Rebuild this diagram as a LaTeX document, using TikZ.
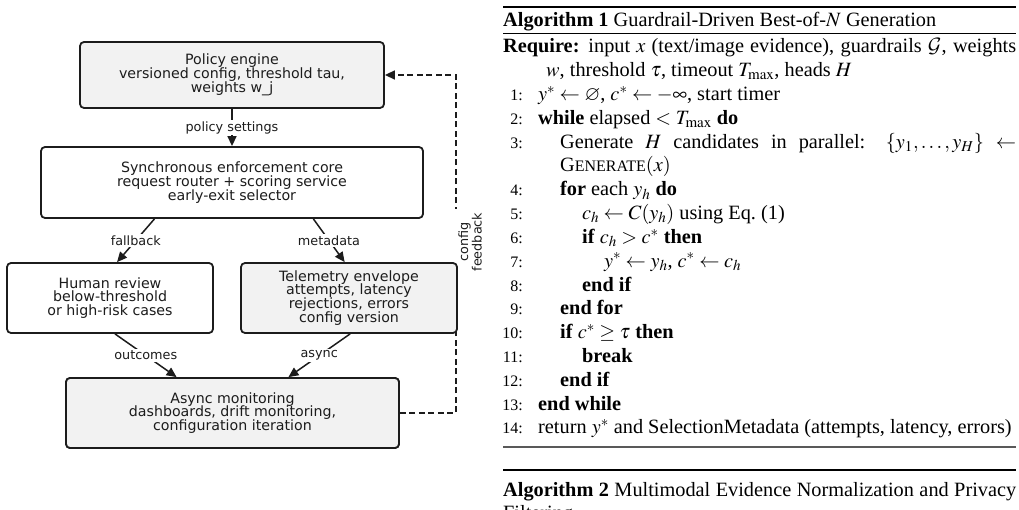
\documentclass[tikz,border=0pt]{standalone}
\usepackage{amssymb}
\usepackage{mathptmx}
\DeclareMathAlphabet{\mathcal}{OMS}{cmsy}{m}{n}
\usepackage{fontspec}
\setmainfont{Liberation Serif}
\newfontfamily\dejavu{DejaVu Sans}
\usetikzlibrary{arrows.meta,calc}
\definecolor{boxline}{HTML}{1C1C1C}
\definecolor{boxfill}{HTML}{F2F2F2}
\newcommand{\algln}[5]{%
  \node[lnum] (n#1) at (523,#4) {#2};
  \node[ltxt] (t#1) at (#3,#4) {#5};}
\begin{document}
\begin{tikzpicture}[x=1pt,y=-1pt,
  box/.style={draw=boxline,line width=1.8pt,rounded corners=4pt,align=center,inner sep=0pt,
    text=boxline,font=\dejavu\fontsize{14.2}{13.9}\selectfont},
  gbox/.style={box,fill=boxfill},
  wbox/.style={box,fill=white},
  conn/.style={draw=boxline,line width=1.5pt,-{Triangle[length=10pt,width=9pt]}},
  lbl/.style={fill=white,inner sep=1.5pt,text=boxline,font=\dejavu\fontsize{12.8}{13.5}\selectfont},
  lnum/.style={anchor=base east,inner sep=0pt,font=\fontsize{16}{19}\selectfont},
  ltxt/.style={anchor=base west,inner sep=0pt,font=\fontsize{20.3}{23.8}\selectfont},
  rulethick/.style={line width=1.6pt},
  rulethin/.style={line width=0.8pt}]
\useasboundingbox (0,0) rectangle (1019,510);
\clip (0,0) rectangle (1019,510);

% ---------- diagram ----------
\coordinate (fbc) at (456,75);
\node[gbox,minimum width=304pt,minimum height=66pt] (pol) at (232,75)
  {Policy engine\\versioned config, threshold tau,\\weights w\_j};
\node[gbox,minimum width=333pt,minimum height=70pt] (amon) at (232.5,413)
  {Async monitoring\\dashboards, drift monitoring,\\configuration iteration};
\draw[boxline,line width=1.5pt,dash pattern=on 6pt off 3.5pt,-{Triangle[length=10pt,width=9pt]}]
  (amon.east) -| (fbc) -- (pol.east);
\node[lbl,rotate=90,align=center,inner sep=4pt] (fbl) at (470,242) {config\\feedback};
\node[gbox,minimum width=333pt,minimum height=70pt] (amon2) at (232.5,413)
  {Async monitoring\\dashboards, drift monitoring,\\configuration iteration};
\node[wbox,minimum width=382pt,minimum height=71pt] (syn) at (232,182.5)
  {Synchronous enforcement core\\request router + scoring service\\early-exit selector};
\node[wbox,minimum width=206pt,minimum height=70pt] (hum) at (110,298)
  {Human review\\below-threshold\\or high-risk cases};
\node[gbox,minimum width=216pt,minimum height=70pt] (tel) at (349,298)
  {Telemetry envelope\\attempts, latency\\rejections, errors\\config version};

\draw[conn] (pol.south) -- node[lbl] (l1) {policy settings} (syn.north);
\draw[conn] ($(syn.south west)!0.298!(syn.south east)$) -- node[lbl] (l2) {fallback}
  ($(hum.north west)!0.534!(hum.north east)$);
\draw[conn] ($(syn.south west)!0.712!(syn.south east)$) -- node[lbl] (l3) {metadata}
  ($(tel.north west)!0.48!(tel.north east)$);
\draw[conn] ($(hum.south west)!0.524!(hum.south east)$) -- node[lbl] (l4) {outcomes}
  ($(amon2.north west)!0.333!(amon2.north east)$);
\draw[conn] ($(tel.south west)!0.505!(tel.south east)$) -- node[lbl] (l5) {async}
  ($(amon2.north west)!0.667!(amon2.north east)$);

% ---------- algorithm 1 ----------
\draw[rulethick] (503,7) coordinate (r1a) -- (1016,7) coordinate (r1b);
\node[ltxt] (h1) at (503,27) {\textbf{Algorithm 1} Guardrail-Driven Best-of-$N$ Generation};
\draw[rulethin] (503,33) coordinate (r2a) -- (1016,33) coordinate (r2b);
\node[ltxt] (req) at (503,53) {\makebox[513pt][s]{\textbf{Require:} input $x$ (text/image evidence), guardrails $\mathcal{G}$, weights}};
\node[ltxt] (req2) at (546,76.8) {$w$, threshold $\tau$, timeout $T_{\max}$, heads $H$};
\algln{1}{1:}{538}{100.6}{$y^*\leftarrow\varnothing$, $c^*\leftarrow-\infty$, start timer}
\algln{2}{2:}{538}{124.4}{\textbf{while} elapsed $<T_{\max}$ \textbf{do}}
\algln{3}{3:}{560}{148.2}{\makebox[456pt][s]{Generate $H$ candidates in parallel: $\{y_1,\dots,y_H\}$ $\leftarrow$}}
\node[ltxt] (t3b) at (560,172) {G{\fontsize{16}{19}\selectfont ENERATE}$(x)$};
\algln{4}{4:}{560}{195.8}{\textbf{for} each $y_h$ \textbf{do}}
\algln{5}{5:}{582}{219.6}{$c_h\leftarrow C(y_h)$ using Eq.~(1)}
\algln{6}{6:}{582}{243.4}{\textbf{if} $c_h>c^*$ \textbf{then}}
\algln{7}{7:}{604}{267.2}{$y^*\leftarrow y_h$, $c^*\leftarrow c_h$}
\algln{8}{8:}{582}{291}{\textbf{end if}}
\algln{9}{9:}{560}{314.8}{\textbf{end for}}
\algln{10}{10:}{560}{338.6}{\textbf{if} $c^*\geq\tau$ \textbf{then}}
\algln{11}{11:}{582}{362.4}{\textbf{break}}
\algln{12}{12:}{560}{386.2}{\textbf{end if}}
\algln{13}{13:}{538}{410}{\textbf{end while}}
\algln{14}{14:}{538}{433.8}{\makebox[478pt][l]{return $y^*$ and SelectionMetadata (attempts, latency, errors)}}
\draw[line width=2pt,black!65] (503,447) coordinate (r3a) -- (1016,447) coordinate (r3b);

% ---------- algorithm 2 ----------
\draw[rulethick] (503,470) coordinate (r4a) -- (1016,470) coordinate (r4b);
\node[ltxt] (h2) at (503,496) {\makebox[513pt][s]{\textbf{Algorithm 2} Multimodal Evidence Normalization and Privacy}};
\node[ltxt] (h2b) at (503,519.8) {Filtering};
\end{tikzpicture}
\end{document}
